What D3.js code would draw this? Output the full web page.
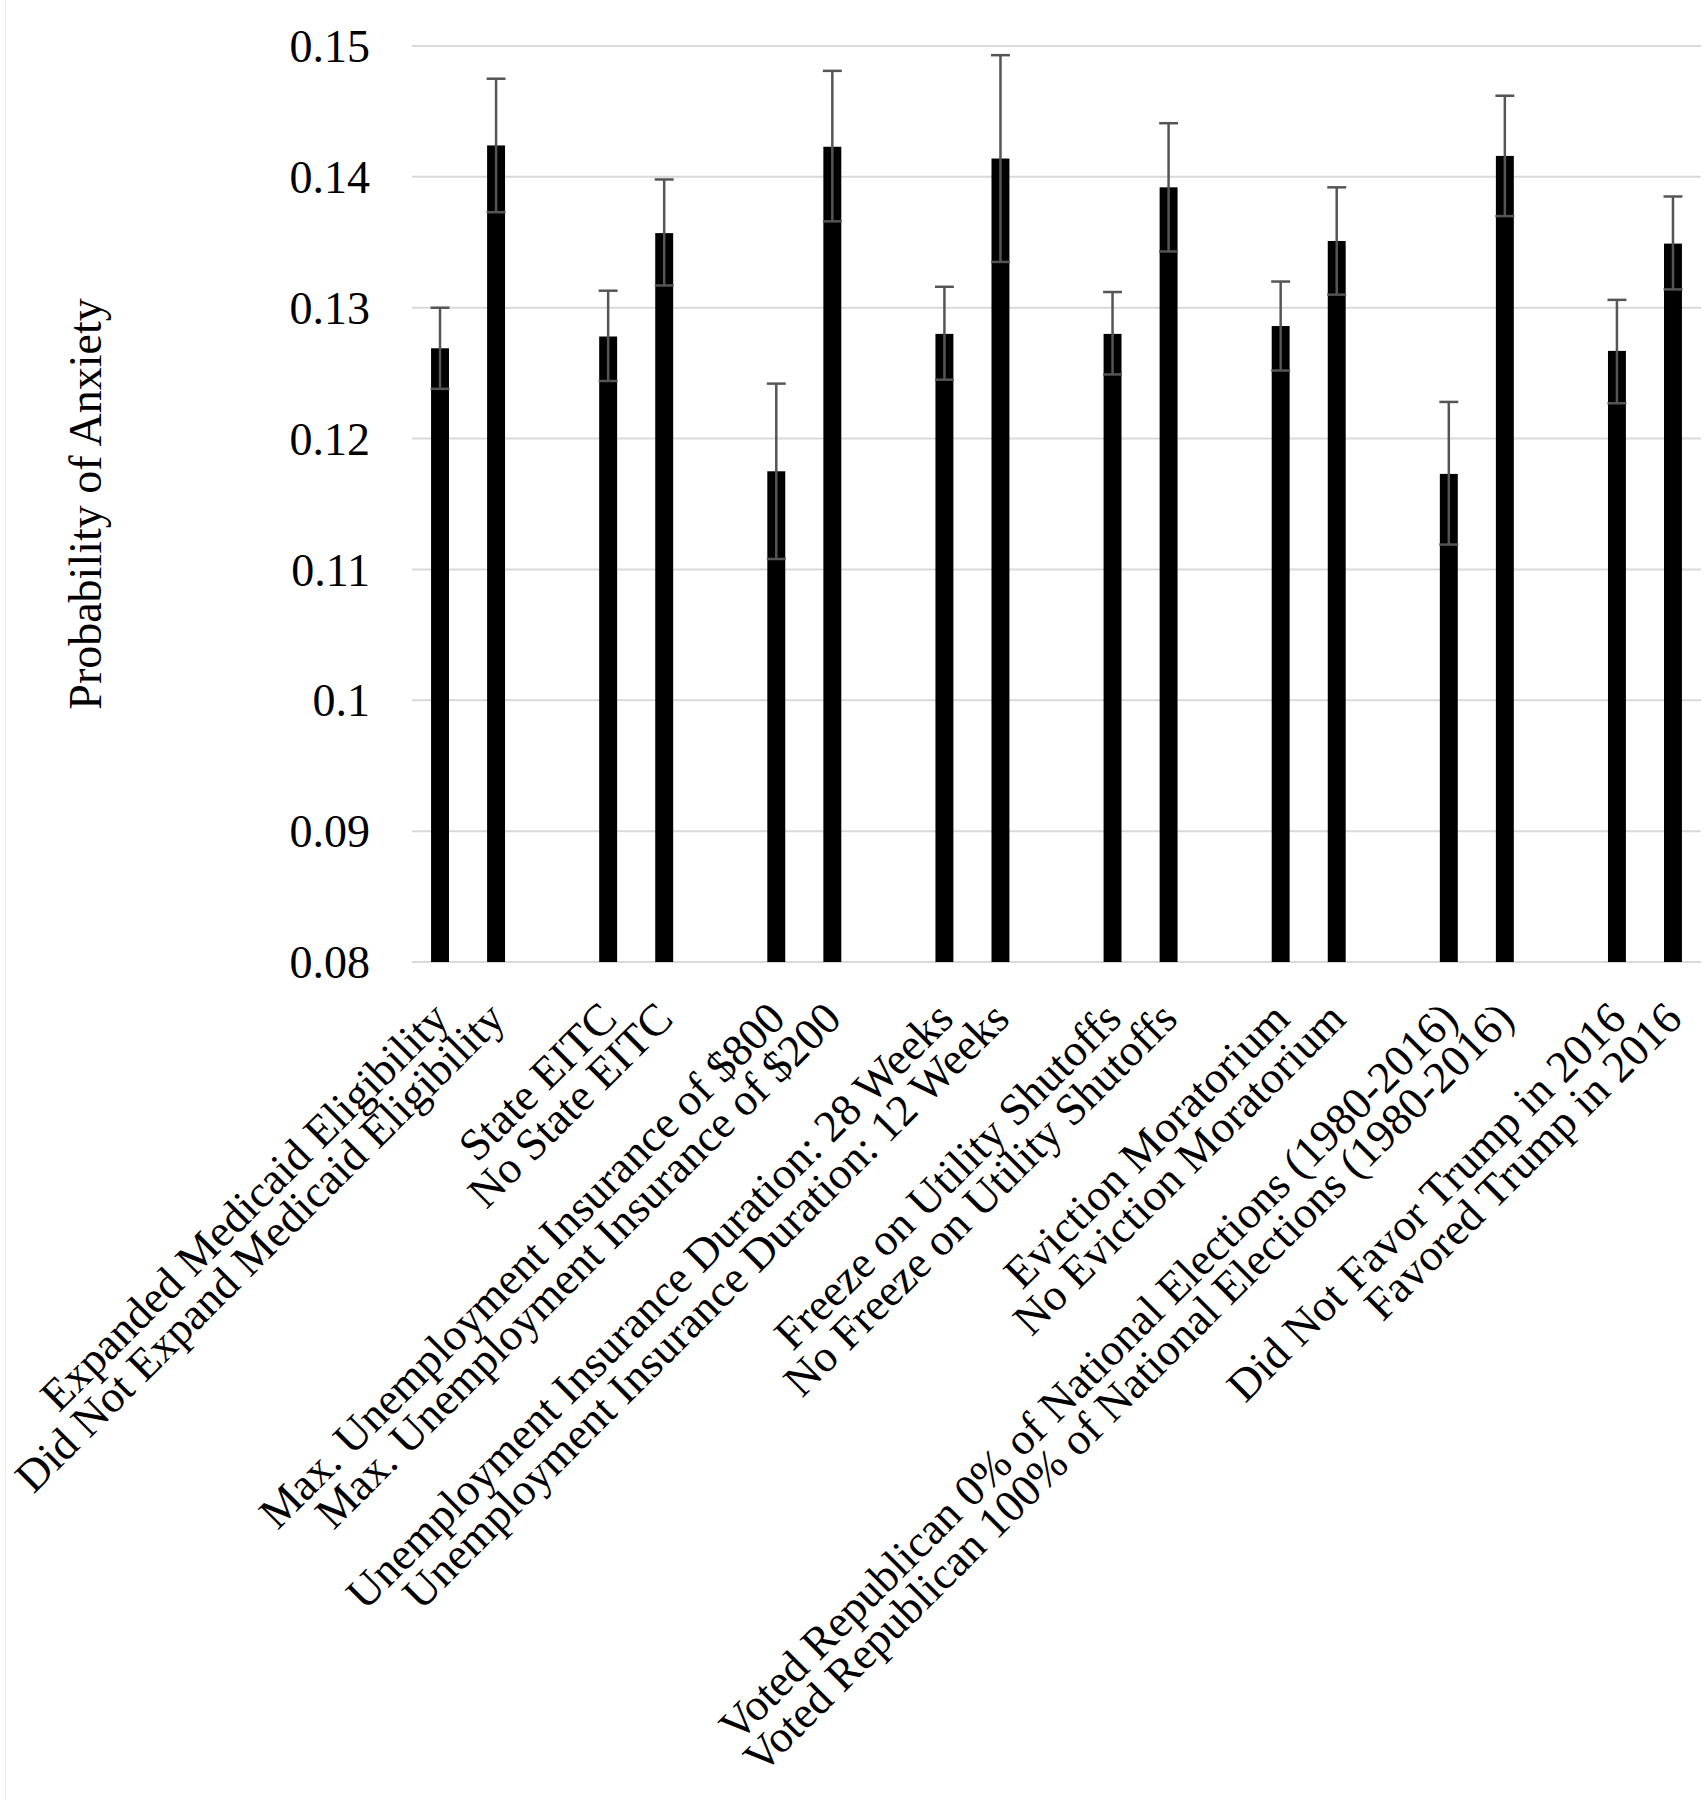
<!DOCTYPE html>
<html>
<head>
<meta charset="utf-8">
<script src="https://cdn.jsdelivr.net/npm/d3@7"></script>
<style>
  body { margin: 0; background: #fff; }
  svg text { font-family: "Liberation Serif", "Times New Roman", serif; fill: #000; }
</style>
</head>
<body>
<svg id="Diagram"></svg>
<script>
// categories, in chart order (pairs, with an empty slot between pairs)
var labels = [
    "Expanded Medicaid Eligibility", "Did Not Expand Medicaid Eligibility",
    "State EITC", "No State EITC",
    "Max. Unemployment Insurance of $800", "Max. Unemployment Insurance of $200",
    "Unemployment Insurance Duration: 28 Weeks", "Unemployment Insurance Duration: 12 Weeks",
    "Freeze on Utility Shutoffs", "No Freeze on Utility Shutoffs",
    "Eviction Moratorium", "No Eviction Moratorium",
    "Voted Republican 0% of National Elections (1980-2016)", "Voted Republican 100% of National Elections (1980-2016)",
    "Did Not Favor Trump in 2016", "Favored Trump in 2016"
];
// predicted probability of anxiety
var values = [0.1269, 0.1424, 0.1278, 0.1357, 0.1175, 0.1423, 0.1280, 0.1414,
              0.1280, 0.1392, 0.1286, 0.1351, 0.1173, 0.1416, 0.1267, 0.1349];
// 95% CI
var upper = [0.1300, 0.1475, 0.1313, 0.1398, 0.1242, 0.1481, 0.1316, 0.1493,
             0.1312, 0.1441, 0.1320, 0.1392, 0.1228, 0.1462, 0.1306, 0.1385];
var lower = [0.1238, 0.1373, 0.1244, 0.1317, 0.1108, 0.1366, 0.1245, 0.1335,
             0.1249, 0.1343, 0.1252, 0.1310, 0.1119, 0.1370, 0.1227, 0.1314];
var yTicks = [0.08, 0.09, 0.1, 0.11, 0.12, 0.13, 0.14, 0.15];
var yTitle = "Probability of Anxiety";

var width = 1707, height = 1800;
var plot = {left: 412, right: 1701, top: 46, bottom: 962};
var fontSize = 46;

var svg = d3.select("#Diagram")
    .attr("width", width)
    .attr("height", height);

// faint chart border on the left
svg.append("line")
    .attr("x1", 5.5).attr("x2", 5.5)
    .attr("y1", 0).attr("y2", height)
    .attr("stroke", "#ececec").attr("stroke-width", 1);

// slots: two bars then a blank one
var slots = [];
labels.forEach(function(d, i) {
    slots.push(d);
    if (i % 2 == 1 && i < labels.length - 1) slots.push("gap" + i);
});

var x = d3.scaleBand()
    .domain(slots)
    .range([plot.left, plot.right])
    .paddingInner(0.68)
    .paddingOuter(0.34);

var y = d3.scaleLinear()
    .domain([0.08, 0.15])
    .range([plot.bottom, plot.top]);

// gridlines
svg.append("g")
    .selectAll("line")
    .data(yTicks)
    .enter()
    .append("line")
    .attr("x1", plot.left)
    .attr("x2", plot.right)
    .attr("y1", function(d) { return y(d); })
    .attr("y2", function(d) { return y(d); })
    .attr("stroke", "#d9d9d9")
    .attr("stroke-width", 2);

// y axis labels
var yAxis = svg.append("g")
    .attr("transform", "translate(" + (plot.left - 42) + ",0)")
    .call(d3.axisLeft(y).tickValues(yTicks).tickSize(0).tickPadding(0)
        .tickFormat(function(d) { return String(+d.toFixed(2)); }));
yAxis.select(".domain").remove();
yAxis.selectAll("text")
    .attr("font-size", fontSize)
    .attr("dy", "0.34em");

// bars
svg.append("g")
    .selectAll("rect")
    .data(values)
    .enter()
    .append("rect")
    .attr("x", function(d, i) { return x(labels[i]); })
    .attr("width", x.bandwidth())
    .attr("y", function(d) { return y(d); })
    .attr("height", function(d) { return y(0.08) - y(d); })
    .attr("fill", "#000");

// error bars
var capW = x.bandwidth() + 1;
var err = svg.append("g")
    .attr("stroke", "#555")
    .attr("stroke-width", 2.5);
values.forEach(function(d, i) {
    var cx = x(labels[i]) + x.bandwidth() / 2;
    err.append("line")
        .attr("x1", cx).attr("x2", cx)
        .attr("y1", y(upper[i])).attr("y2", y(lower[i]));
    [upper[i], lower[i]].forEach(function(v) {
        err.append("line")
            .attr("x1", cx - capW / 2).attr("x2", cx + capW / 2)
            .attr("y1", y(v)).attr("y2", y(v));
    });
});

// category labels, rotated
svg.append("g")
    .selectAll("text")
    .data(labels)
    .enter()
    .append("text")
    .attr("font-size", 45)
    .attr("text-anchor", "end")
    .attr("dy", "0.35em")
    .attr("transform", function(d) {
        var cx = x(d) + x.bandwidth() / 2;
        return "translate(" + cx + "," + (plot.bottom + 48) + ") rotate(-45)";
    })
    .text(function(d) { return d; });

// y axis title
svg.append("text")
    .attr("font-size", fontSize)
    .attr("text-anchor", "middle")
    .attr("transform", "translate(101," + ((plot.top + plot.bottom) / 2) + ") rotate(-90)")
    .text(yTitle);
</script>
</body>
</html>
